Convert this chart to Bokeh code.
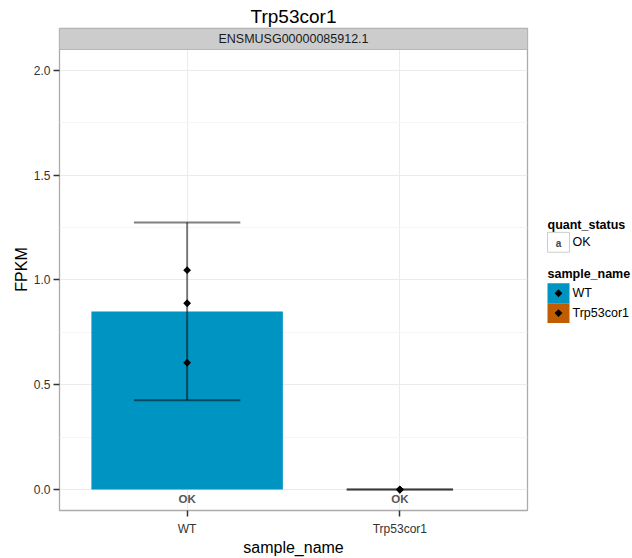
from bokeh.plotting import figure
from bokeh.layouts import row
from bokeh.models import Range1d, FixedTicker, ColumnDataSource
from bokeh.core.properties import value
from bokeh.embed import file_html
from bokeh.resources import INLINE

# --- data -------------------------------------------------------------
gene_short_name = "Trp53cor1"
gene_id = "ENSMUSG00000085912.1"

sample_name = ["WT", "Trp53cor1"]
fpkm = [0.85, 0.0]
conf_lo = [0.426, 0.0]
conf_hi = [1.274, 0.0]
quant_status = ["OK", "OK"]

rep_sample = ["WT", "WT", "WT", "Trp53cor1", "Trp53cor1", "Trp53cor1"]
rep_fpkm = [1.047, 0.889, 0.605, 0.0, 0.0, 0.0]

fill_colors = ["#0094C2", "#C15C00"]
y_ticks = [0.0, 0.5, 1.0, 1.5, 2.0]
y_minor = [0.25, 0.75, 1.25, 1.75]
y_limits = [0.0, 2.0]

FONT = "Liberation Sans"

# --- scales -----------------------------------------------------------
xpos = {s: i + 1 for i, s in enumerate(sample_name)}
bar_x = [xpos[s] for s in sample_name]
rep_x = [xpos[s] for s in rep_sample]

x_lo, x_hi = 1 - 0.6, len(sample_name) + 0.6
pad = 0.05 * (y_limits[1] - y_limits[0])
panel_lo, panel_hi = y_limits[0] - pad, y_limits[1] + pad
strip_h = pad  # facet strip sits on top of the panel

p = figure(
    width=540, height=558,
    x_range=Range1d(x_lo, x_hi),
    y_range=Range1d(panel_lo, panel_hi + strip_h),
    output_backend="svg", toolbar_location=None,
    min_border_left=59, min_border_right=13,
    min_border_top=28, min_border_bottom=46,
    title=gene_short_name,
)
p.background_fill_color = "white"
p.border_fill_color = "white"
p.outline_line_color = "#ABABAB"
p.outline_line_width = 1.3

p.title.align = "center"
p.title.text_font = FONT
p.title.text_font_size = "19px"
p.title.text_font_style = "normal"
p.title.text_color = "black"
p.title.standoff = 4

# grid
p.xgrid.ticker = FixedTicker(ticks=bar_x)
p.ygrid.ticker = FixedTicker(ticks=y_ticks, minor_ticks=y_minor)
p.grid.grid_line_color = "#EBEBEB"
p.grid.grid_line_width = 1
p.ygrid.minor_grid_line_color = "#F5F5F5"
p.ygrid.minor_grid_line_width = 1

# axes
for ax in (p.xaxis[0], p.yaxis[0]):
    ax.axis_line_color = None
    ax.major_tick_out = 6
    ax.major_tick_in = 0
    ax.major_tick_line_color = "#333333"
    ax.major_tick_line_width = 1.5
    ax.minor_tick_line_color = None
    ax.major_label_text_font = FONT
    ax.major_label_text_font_size = "12px"
    ax.major_label_text_color = "#333333"
    ax.axis_label_text_font = FONT
    ax.axis_label_text_font_size = "16px"
    ax.axis_label_text_font_style = "normal"
    ax.axis_label_text_color = "black"

p.xaxis.ticker = FixedTicker(ticks=bar_x)
p.xaxis.major_label_overrides = {xpos[s]: s for s in sample_name}
p.xaxis.axis_label = "sample_name"
p.xaxis.major_label_standoff = 5
p.xaxis.axis_label_standoff = 0

p.yaxis.ticker = FixedTicker(ticks=y_ticks)
p.yaxis.major_label_overrides = {t: f"{t:.1f}" for t in y_ticks}
p.yaxis.axis_label = "FPKM"
p.yaxis.major_label_standoff = 3
p.yaxis.axis_label_standoff = 1

# bars
bars = ColumnDataSource(dict(x=bar_x, top=fpkm, lo=conf_lo, hi=conf_hi,
                             color=fill_colors, status=quant_status))
p.vbar(x="x", top="top", bottom=0, width=0.9, source=bars,
       fill_color="color", line_color=None)

# error bars
ecol, ealpha, ew = "black", 0.5, 2
p.segment(x0="x", y0="lo", x1="x", y1="hi", source=bars,
          line_color=ecol, line_alpha=ealpha, line_width=ew)
cap_l = [x - 0.25 for x in bar_x]
cap_r = [x + 0.25 for x in bar_x]
p.segment(x0=cap_l, y0=conf_lo, x1=cap_r, y1=conf_lo,
          line_color=ecol, line_alpha=ealpha, line_width=ew)
p.segment(x0=cap_l, y0=conf_hi, x1=cap_r, y1=conf_hi,
          line_color=ecol, line_alpha=ealpha, line_width=ew)

# replicate points
p.scatter(x=rep_x, y=rep_fpkm, marker="square", angle=0.785398,
          size=5.5, fill_color="black", line_color=None)

# quant status labels under the bars
p.text(x="x", y=0, text="status", source=bars,
       text_font=value(FONT), text_font_size="11.5px", text_font_style="bold",
       text_color="#555555", text_align="center", text_baseline="middle",
       y_offset=9.5)

# facet strip
p.quad(left=x_lo, right=x_hi, bottom=panel_hi, top=panel_hi + strip_h,
       fill_color="#CCCCCC", line_color="#B5B5B5", line_width=1)
p.text(x=[(x_lo + x_hi) / 2], y=[panel_hi + strip_h / 2], text=[gene_id],
       text_font=value(FONT), text_font_size="12.5px", text_color="#1A1A1A",
       text_align="center", text_baseline="middle")

# --- legend panel -----------------------------------------------------
lg = figure(
    width=92, height=558,
    x_range=Range1d(540, 632), y_range=Range1d(558, 0),
    output_backend="svg", toolbar_location=None,
    x_axis_location=None, y_axis_location=None,
    min_border=0,
)
lg.grid.visible = False
lg.outline_line_color = None
lg.background_fill_color = "white"
lg.border_fill_color = "white"

lx, kw, kh = 547, 22, 23
txt = dict(text_font=value(FONT), text_font_size="12.5px",
           text_baseline="middle", text_align="left", text_color="black")

# quant_status guide
lg.text(x=[lx], y=[228], text=["quant_status"], text_font_style="bold", **txt)
q_top = 236
lg.quad(left=[lx], right=[lx + kw], top=[q_top], bottom=[q_top + kh],
        fill_color="white", line_color="#CCCCCC", line_width=1)
lg.text(x=[lx + kw / 2], y=[q_top + kh / 2 + 1], text=["a"],
        text_font=value(FONT), text_font_size="10px", text_font_style="bold",
        text_color="#444444", text_align="center", text_baseline="middle")
lg.text(x=[lx + kw + 3], y=[q_top + kh / 2], text=[quant_status[0]], **txt)

# sample_name guide
lg.text(x=[lx], y=[284], text=["sample_name"], text_font_style="bold", **txt)
s_top = 295
tops = [s_top + i * kh for i in range(len(sample_name))]
lg.quad(left=[lx] * len(tops), right=[lx + kw] * len(tops),
        top=tops, bottom=[t + kh for t in tops],
        fill_color=fill_colors, line_color=None)
lg.scatter(x=[lx + kw / 2] * len(tops), y=[t + kh / 2 for t in tops],
           marker="square", angle=0.785398, size=5.5,
           fill_color="black", line_color=None)
lg.text(x=[lx + kw + 3] * len(tops), y=[t + kh / 2 for t in tops],
        text=sample_name, **txt)

layout = row(p, lg)
open("out.html", "w").write(file_html(layout, INLINE))
